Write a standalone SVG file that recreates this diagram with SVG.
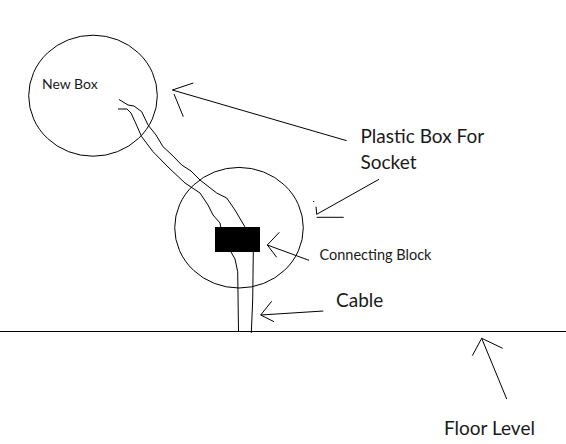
<svg xmlns="http://www.w3.org/2000/svg" width="566" height="444" viewBox="0 0 566 444">
<style>
.l{fill:none;stroke:#000;stroke-width:1}
.t{font-family:"Lato","Carlito","Open Sans",sans-serif;fill:#1a1a1a}
</style>
<rect width="566" height="444" fill="#fff"/>
<g id="new-box"><ellipse class="l" cx="93" cy="95.7" rx="64.3" ry="60.5"/><text class="t" x="42" y="89" font-size="14">New Box</text></g>
<g id="socket-box"><ellipse class="l" cx="239" cy="227.7" rx="64.3" ry="60.3"/></g>
<g id="connecting-block"><rect x="215" y="227" width="45" height="25" fill="#000"/></g>
<g id="floor"><path class="l" d="M0 331.5H566"/></g>
<g id="connectors">
<path class="l" d="M119 99.5L128 105L134 106L141.700 111.700L148 125L156 135L163 146.700L172 155L181.700 165L191 171L200 180L216.700 193L226.700 198L235 210L245 227"/>
<path class="l" d="M118 109L127 109L131 113L135 121.700L141.700 136.700L153 151.700L168 167L185 183L200 193L208 205L213 215L220 223L220.700 227"/>
<path class="l" d="M231 252L235 259L237.700 271.700L238.500 331.500"/>
<path class="l" d="M253.300 252L252.700 300L251.300 333"/>
<path class="l" d="M193.300 83L172.300 90L346.700 140.700M174 94L183.300 116.700"/>
<path class="l" d="M379 179.300L316.700 214.300L316 206.700M313.300 201L314 202M316.700 217.300H343.700"/>
<path class="l" d="M279.300 232.300L267.300 245L276.700 257.300M267.300 245L309 260.300"/>
<path class="l" d="M271.700 301.300L260.700 315L274 321.700M260.700 315L323.300 311"/>
<path class="l" d="M472.300 355.700L481.700 338.300L502.700 348.300M481.700 338.300L506.700 399"/>
</g>
<g id="labels">
<text class="t" x="360.500" y="143" font-size="19">Plastic Box For</text>
<text class="t" x="360.500" y="169" font-size="19">Socket</text>
<text class="t" x="319.500" y="260" font-size="14.500">Connecting Block</text>
<text class="t" x="336" y="306.500" font-size="19">Cable</text>
<text class="t" x="444" y="435" font-size="19">Floor Level</text>
</g>
</svg>
